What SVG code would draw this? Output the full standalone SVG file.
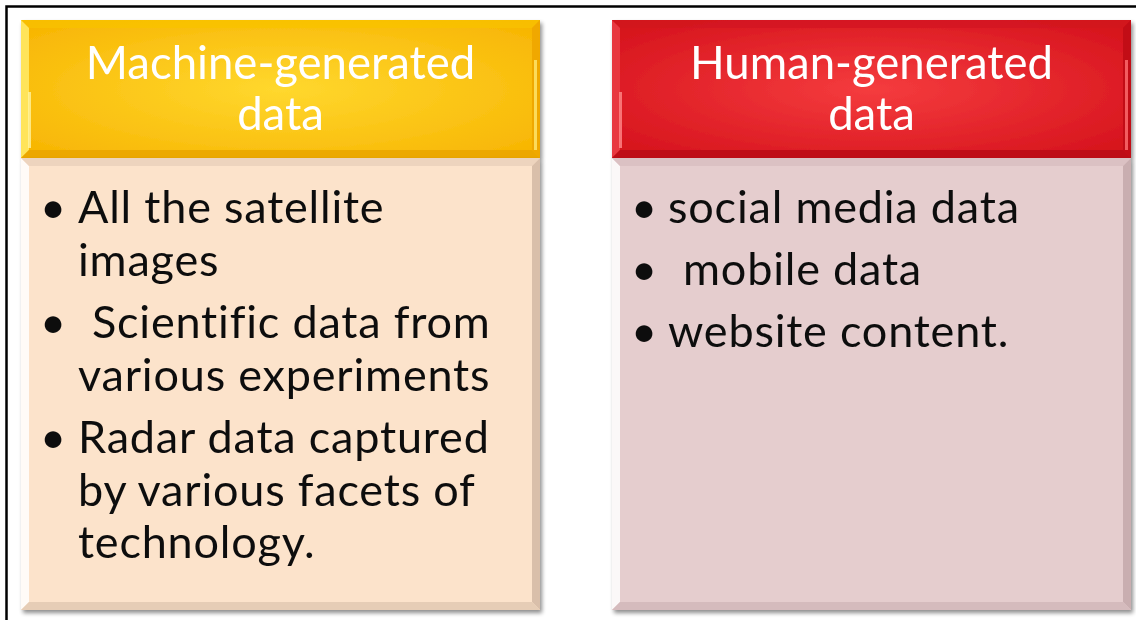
<svg xmlns="http://www.w3.org/2000/svg" width="1136" height="620" viewBox="0 0 1136 620">
<defs>
<radialGradient id="gY" cx="0.5" cy="0.5" r="0.7">
<stop offset="0" stop-color="#FFD82E"/><stop offset="1" stop-color="#F7B300"/>
</radialGradient>
<radialGradient id="gR" cx="0.5" cy="0.5" r="0.7">
<stop offset="0" stop-color="#F53C3E"/><stop offset="1" stop-color="#D3101A"/>
</radialGradient>
<filter id="sh" x="-5%" y="-5%" width="110%" height="110%">
<feGaussianBlur in="SourceAlpha" stdDeviation="2"/>
<feOffset dx="2" dy="3" result="b"/>
<feComponentTransfer><feFuncA type="linear" slope="0.45"/></feComponentTransfer>
<feMerge><feMergeNode/><feMergeNode in="SourceGraphic"/></feMerge>
</filter>
</defs>
<style>
.hd{font-family:Lato,"Open Sans",sans-serif;font-size:45.5px;fill:#fff;text-anchor:middle}
.bt{font-family:Lato,"Open Sans",sans-serif;font-size:45px;letter-spacing:0.8px;fill:#111}
</style>
<rect width="1136" height="620" fill="#fff"/>
<path d="M6.5 620 V6.5 H1136" fill="none" stroke="#000" stroke-width="2.5"/>

<g id="machine-header" filter="url(#sh)">
<rect x="21" y="20" width="519" height="138" fill="url(#gY)"/>
<polygon points="21,20 540,20 532,28 29,28" fill="#F9C400" opacity="0.6"/>
<polygon points="21,20 29,28 29,150 21,158" fill="#FFE45A"/>
<polygon points="28,92 31,92 31,148 28,148" fill="#FFF4A0" opacity="0.8"/>
<polygon points="540,20 540,158 532,150 532,28" fill="#F0A800"/>
<polygon points="534,60 537,60 537,150 534,150" fill="#FFE770" opacity="0.8"/>
<polygon points="21,158 540,158 532,150 29,150" fill="#E9A400" opacity="0.8"/>
<text class="hd"><tspan x="280.5" y="79">Machine-generated</tspan><tspan x="280.5" y="130">data</tspan></text>
</g>
<g id="machine-body" filter="url(#sh)">
<rect x="21" y="158" width="519" height="452" fill="#FCE3CB"/>
<polygon points="21,158 29,166 29,602 21,610" fill="#fff" opacity="0.85"/>
<polygon points="21,158 540,158 532,166 29,166" fill="#E8D0BA" opacity="0.8"/>
<polygon points="540,158 540,610 532,602 532,166" fill="#D9BFAA"/>
<polygon points="21,610 540,610 532,602 29,602" fill="#E6CDB6"/>
<text class="bt" x="40" y="223">•</text><text class="bt" x="78" y="223">All the satellite</text>
<text class="bt" x="78" y="276">images</text>
<text class="bt" x="40" y="338">•</text><text class="bt" x="92" y="338">Scientific data from</text>
<text class="bt" x="78" y="391">various experiments</text>
<text class="bt" x="40" y="453">•</text><text class="bt" x="78" y="453">Radar data captured</text>
<text class="bt" x="78" y="506">by various facets of</text>
<text class="bt" x="78" y="558">technology.</text>
</g>

<g id="human-header" filter="url(#sh)">
<rect x="612" y="20" width="519" height="138" fill="url(#gR)"/>
<polygon points="612,20 1131,20 1123,28 620,28" fill="#D01520" opacity="0.6"/>
<polygon points="612,20 620,28 620,150 612,158" fill="#E8393F"/>
<polygon points="619,92 622,92 622,148 619,148" fill="#FF8A8A" opacity="0.8"/>
<polygon points="1131,20 1131,158 1123,150 1123,28" fill="#C20D15"/>
<polygon points="1125,60 1128,60 1128,150 1125,150" fill="#FF7070" opacity="0.8"/>
<polygon points="612,158 1131,158 1123,150 620,150" fill="#B80C14" opacity="0.8"/>
<text class="hd"><tspan x="871.5" y="79">Human-generated</tspan><tspan x="871.5" y="130">data</tspan></text>
</g>
<g id="human-body" filter="url(#sh)">
<rect x="612" y="158" width="519" height="452" fill="#E5CDCE"/>
<polygon points="612,158 620,166 620,602 612,610" fill="#fff" opacity="0.85"/>
<polygon points="612,158 1131,158 1123,166 620,166" fill="#D8BEC0" opacity="0.8"/>
<polygon points="1131,158 1131,610 1123,602 1123,166" fill="#C9AEB0"/>
<polygon points="612,610 1131,610 1123,602 620,602" fill="#D5BBBD"/>
<text class="bt" x="631" y="223">•</text><text class="bt" x="668" y="223">social media data</text>
<text class="bt" x="631" y="285">•</text><text class="bt" x="683" y="285">mobile data</text>
<text class="bt" x="631" y="347">•</text><text class="bt" x="668" y="347">website content.</text>
</g>
<g id="connectors"/>
</svg>
